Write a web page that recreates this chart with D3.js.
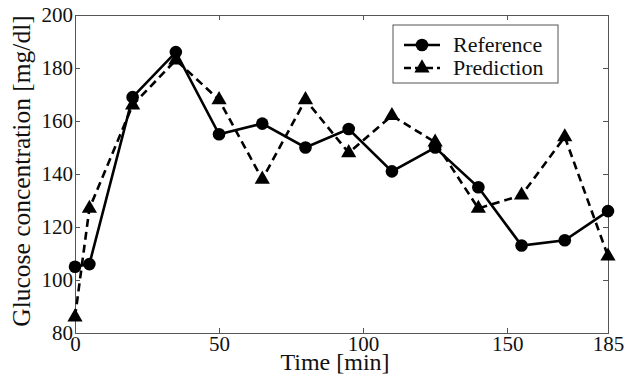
<!DOCTYPE html>
<html lang="en">
<head>
    <meta charset="UTF-8">
    <title>glucose</title>
    <style>
        body { margin: 0; background: #fff; }
        .axis path, .axis line { fill: none; stroke: #555; stroke-width: 1; shape-rendering: crispEdges; }
        .title { font-family: "Liberation Serif", serif; fill: #111; }
        .legend text { font-family: "Liberation Serif", serif; font-size: 22px; fill: #111; }
    </style>
</head>
<body>
<script src="https://cdn.jsdelivr.net/npm/d3@7"></script>
<script>
    var width = 626;
    var height = 377;
    var margin = {top: 15, right: 18, bottom: 44, left: 75};

    // time points [min]
    var times = [0, 5, 20, 35, 50, 65, 80, 95, 110, 125, 140, 155, 170, 185];
    var reference = [105, 106, 169, 186, 155, 159, 150, 157, 141, 150, 135, 113, 115, 126];
    var prediction = [86, 127, 166, 183, 168, 138, 168, 148, 162, 152, 127, 132, 154, 109];
    var xTicks = [0, 50, 100, 150, 185];
    var yTicks = [80, 100, 120, 140, 160, 180, 200];

    var w = width - margin.left - margin.right;
    var h = height - margin.top - margin.bottom;

    var x = d3.scaleLinear().domain([0, 185]).range([0, w]);
    var y = d3.scaleLinear().domain([80, 200]).range([h, 0]);

    var svg = d3.select("body").append("svg")
        .attr("width", width)
        .attr("height", height);

    var g = svg.append("g")
        .attr("transform", "translate(" + margin.left + "," + margin.top + ")");

    // box axes, ticks pointing inward
    var xAxisG = g.append("g").attr("class", "axis")
        .attr("transform", "translate(0," + h + ")")
        .call(d3.axisBottom(x).tickValues(xTicks).tickSizeInner(-5).tickSizeOuter(0).tickPadding(3));
    g.append("g").attr("class", "axis")
        .call(d3.axisTop(x).tickValues(xTicks).tickSizeInner(-5).tickSizeOuter(0).tickFormat(""));
    var yAxisG = g.append("g").attr("class", "axis")
        .call(d3.axisLeft(y).tickValues(yTicks).tickSizeInner(-5).tickSizeOuter(0).tickPadding(2));
    g.append("g").attr("class", "axis")
        .attr("transform", "translate(" + w + ",0)")
        .call(d3.axisRight(y).tickValues(yTicks).tickSizeInner(-5).tickSizeOuter(0).tickFormat(""));

    [xAxisG, yAxisG].forEach(function(a) {
        a.attr("font-family", "Liberation Serif").attr("font-size", 21);
        a.selectAll("text").style("font-family", "'Liberation Serif', serif")
            .style("font-size", "21px").attr("fill", "#111");
    });

    var refData = times.map(function(t, i) { return [t, reference[i]]; });
    var predData = times.map(function(t, i) { return [t, prediction[i]]; });

    var line = d3.line()
        .x(function(d) { return x(d[0]); })
        .y(function(d) { return y(d[1]); });

    var tri = d3.symbol().type(d3.symbolTriangle).size(100);

    g.append("path").datum(refData)
        .attr("d", line)
        .attr("fill", "none")
        .attr("stroke", "#000")
        .attr("stroke-width", 2.6);

    g.append("path").datum(predData)
        .attr("d", line)
        .attr("fill", "none")
        .attr("stroke", "#000")
        .attr("stroke-width", 2.6)
        .attr("stroke-dasharray", "8,5");

    g.selectAll(".dot").data(refData).enter()
        .append("circle")
        .attr("class", "dot")
        .attr("cx", function(d) { return x(d[0]); })
        .attr("cy", function(d) { return y(d[1]); })
        .attr("r", 6.3)
        .attr("fill", "#000");

    g.selectAll(".tri").data(predData).enter()
        .append("path")
        .attr("class", "tri")
        .attr("d", tri)
        .attr("transform", function(d) { return "translate(" + x(d[0]) + "," + y(d[1]) + ")"; })
        .attr("fill", "#000");

    // axis titles
    svg.append("text").attr("class", "title")
        .attr("x", 335).attr("y", 370)
        .attr("text-anchor", "middle")
        .style("font-size", "24px")
        .text("Time [min]");

    svg.append("text").attr("class", "title")
        .attr("transform", "translate(30,171) rotate(-90)")
        .attr("text-anchor", "middle")
        .style("font-size", "25.5px")
        .text("Glucose concentration [mg/dl]");

    // legend
    var legend = svg.append("g").attr("class", "legend")
        .attr("transform", "translate(393,25)");
    legend.append("rect")
        .attr("width", 165).attr("height", 58)
        .attr("fill", "#fff").attr("stroke", "#555");

    var items = [["Reference", false], ["Prediction", true]];
    var row = legend.selectAll(".row").data(items).enter()
        .append("g")
        .attr("transform", function(d, i) { return "translate(0," + (20 + i * 23) + ")"; });
    row.append("line")
        .attr("x1", 11).attr("x2", 47)
        .attr("stroke", "#000").attr("stroke-width", 2.6)
        .attr("stroke-dasharray", function(d) { return d[1] ? "7,4" : null; });
    row.filter(function(d) { return !d[1]; }).append("circle")
        .attr("cx", 29).attr("r", 6.3).attr("fill", "#000");
    row.filter(function(d) { return d[1]; }).append("path")
        .attr("d", tri).attr("transform", "translate(29,0)").attr("fill", "#000");
    row.append("text")
        .attr("x", 60).attr("y", 7)
        .text(function(d) { return d[0]; });
</script>
</body>
</html>
